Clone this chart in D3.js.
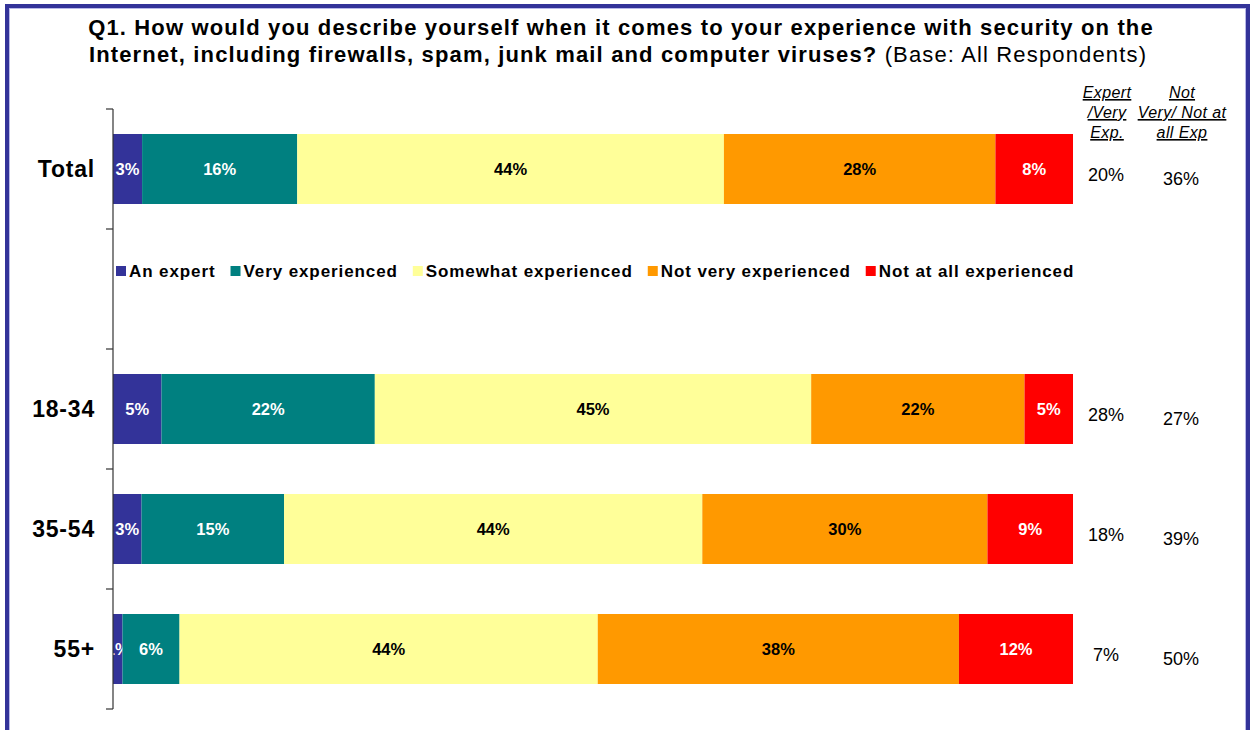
<!DOCTYPE html>
<html>
<head>
<meta charset="utf-8">
<script src="https://cdn.jsdelivr.net/npm/d3@7/dist/d3.min.js"></script>
<style>
  html, body { margin: 0; padding: 0; background: #ffffff; }
  svg { display: block; font-family: Arial, "Liberation Sans", sans-serif; }
</style>
</head>
<body>
<svg id="chart" width="1250" height="730"></svg>
<script>
// Survey groups (rows) and the spacer row that holds the legend
const rows = ["Total", "legend", "18-34", "35-54", "55+"];
const groups = ["Total", "18-34", "35-54", "55+"];

// Answer categories, in stacking order
const seriesNames = ["An expert", "Very experienced", "Somewhat experienced", "Not very experienced", "Not at all experienced"];
const seriesColors = ["#333399", "#008080", "#FFFF99", "#FF9900", "#FF0000"];
const labelColors = ["#ffffff", "#ffffff", "#000000", "#000000", "#ffffff"];

// Percent of respondents per group
const anExpert = [3, 5, 3, 1];
const veryExperienced = [16, 22, 15, 6];
const somewhatExperienced = [44, 45, 44, 44];
const notVeryExperienced = [28, 22, 30, 38];
const notAtAllExperienced = [8, 5, 9, 12];

// Summary columns on the right
const expertVeryExp = [20, 28, 18, 7];
const notVeryNotAtAllExp = [36, 27, 39, 50];

const seriesValues = [anExpert, veryExperienced, somewhatExperienced, notVeryExperienced, notAtAllExperienced];

const table = groups.map((g, i) => {
  const row = { group: g };
  seriesNames.forEach((s, k) => { row[s] = seriesValues[k][i]; });
  return row;
});

const svg = d3.select("#chart");

// Outer frame
svg.append("rect").attr("x", 7).attr("y", 6).attr("width", 1241).attr("height", 800)
  .attr("fill", "none").attr("stroke", "#333399").attr("stroke-width", 4);
svg.append("rect").attr("x", 9.5).attr("y", 8.5).attr("width", 1236).attr("height", 800)
  .attr("fill", "none").attr("stroke", "#b8b8e8").attr("stroke-width", 1);

// Title
const title = svg.append("text").attr("text-anchor", "middle").attr("font-size", 22)
  .attr("letter-spacing", 1.15).attr("font-weight", "bold").attr("fill", "#000");
title.append("tspan").attr("x", 621).attr("y", 35)
  .text("Q1. How would you describe yourself when it comes to your experience with security on the");
const t2 = title.append("tspan").attr("x", 618).attr("y", 62);
t2.append("tspan").text("Internet, including firewalls, spam, junk mail and computer viruses? ");
t2.append("tspan").attr("font-weight", "normal").text("(Base: All Respondents)");

// Scales
const x = d3.scaleLinear().domain([0, 1]).range([113, 1073]);
const y = d3.scaleBand().domain(rows).range([109, 709])
  .paddingInner(5 / 12).paddingOuter(5 / 24);

const stack = d3.stack().keys(seriesNames).offset(d3.stackOffsetExpand);
const stacked = stack(table);

// Bars
const layers = svg.append("g").selectAll("g").data(stacked).join("g")
  .attr("fill", (d, i) => seriesColors[i]);

layers.selectAll("rect").data(d => d).join("rect")
  .attr("x", d => x(d[0]))
  .attr("y", d => y(d.data.group))
  .attr("width", d => x(d[1]) - x(d[0]))
  .attr("height", y.bandwidth());

// Segment value labels
layers.each(function (layer, i) {
  d3.select(this).selectAll("text").data(layer).join("text")
    .attr("x", d => (x(d[0]) + x(d[1])) / 2)
    .attr("y", d => y(d.data.group) + y.bandwidth() / 2)
    .attr("dy", "0.35em")
    .attr("text-anchor", "middle")
    .attr("font-size", 16.5)
    .attr("font-weight", "bold")
    .attr("fill", labelColors[i])
    .text(d => d.data[layer.key] + "%");
});

// Category axis: vertical line with ticks at band boundaries
const axis = svg.append("g").attr("stroke", "#333").attr("stroke-width", 1.2);
const halfGap = y.step() * y.paddingInner() / 2;
axis.append("line").attr("x1", 113).attr("x2", 113)
  .attr("y1", y(rows[0]) - halfGap).attr("y2", y(rows[rows.length - 1]) + y.bandwidth() + halfGap);
const tickYs = rows.map(r => y(r) - halfGap).concat([y(rows[rows.length - 1]) + y.bandwidth() + halfGap]);
axis.selectAll("line.tick").data(tickYs).join("line").attr("class", "tick")
  .attr("x1", 106).attr("x2", 113).attr("y1", d => d).attr("y2", d => d);

// Group labels
svg.append("g").selectAll("text").data(groups).join("text")
  .attr("x", 95)
  .attr("y", d => y(d) + y.bandwidth() / 2)
  .attr("dy", "0.35em")
  .attr("text-anchor", "end")
  .attr("font-size", 23)
  .attr("letter-spacing", 0.8)
  .attr("font-weight", "bold")
  .text(d => d);

// Legend in the spacer row
const legend = svg.append("g").attr("transform", `translate(116, ${y("legend") + 17})`);
let lx = 0;
seriesNames.forEach((name, i) => {
  legend.append("rect").attr("x", lx).attr("y", -5).attr("width", 10).attr("height", 10)
    .attr("fill", seriesColors[i]);
  const txt = legend.append("text").attr("x", lx + 13).attr("y", 0).attr("dy", "0.35em")
    .attr("font-size", 17).attr("letter-spacing", 0.9).attr("font-weight", "bold").text(name);
  lx += 13 + txt.node().getComputedTextLength() + 15;
});

// Summary column headers (italic, underlined)
const headers = [
  { cx: 1107, lines: ["Expert", "/Very", "Exp."] },
  { cx: 1182, lines: ["Not", "Very/ Not at", "all Exp"] }
];
headers.forEach(h => {
  h.lines.forEach((ln, j) => {
    svg.append("text").attr("x", h.cx).attr("y", 98 + j * 20)
      .attr("text-anchor", "middle").attr("font-size", 16).attr("letter-spacing", 0.4)
      .attr("font-style", "italic")
      .attr("text-decoration", "underline").text(ln);
  });
});

// Summary values
svg.append("g").selectAll("text").data(expertVeryExp).join("text")
  .attr("x", 1106)
  .attr("y", (d, i) => y(groups[i]) + y.bandwidth() / 2 + 6)
  .attr("dy", "0.35em").attr("text-anchor", "middle").attr("font-size", 18)
  .text(d => d + "%");
svg.append("g").selectAll("text").data(notVeryNotAtAllExp).join("text")
  .attr("x", 1181)
  .attr("y", (d, i) => y(groups[i]) + y.bandwidth() / 2 + 10)
  .attr("dy", "0.35em").attr("text-anchor", "middle").attr("font-size", 18)
  .text(d => d + "%");
</script>
</body>
</html>
